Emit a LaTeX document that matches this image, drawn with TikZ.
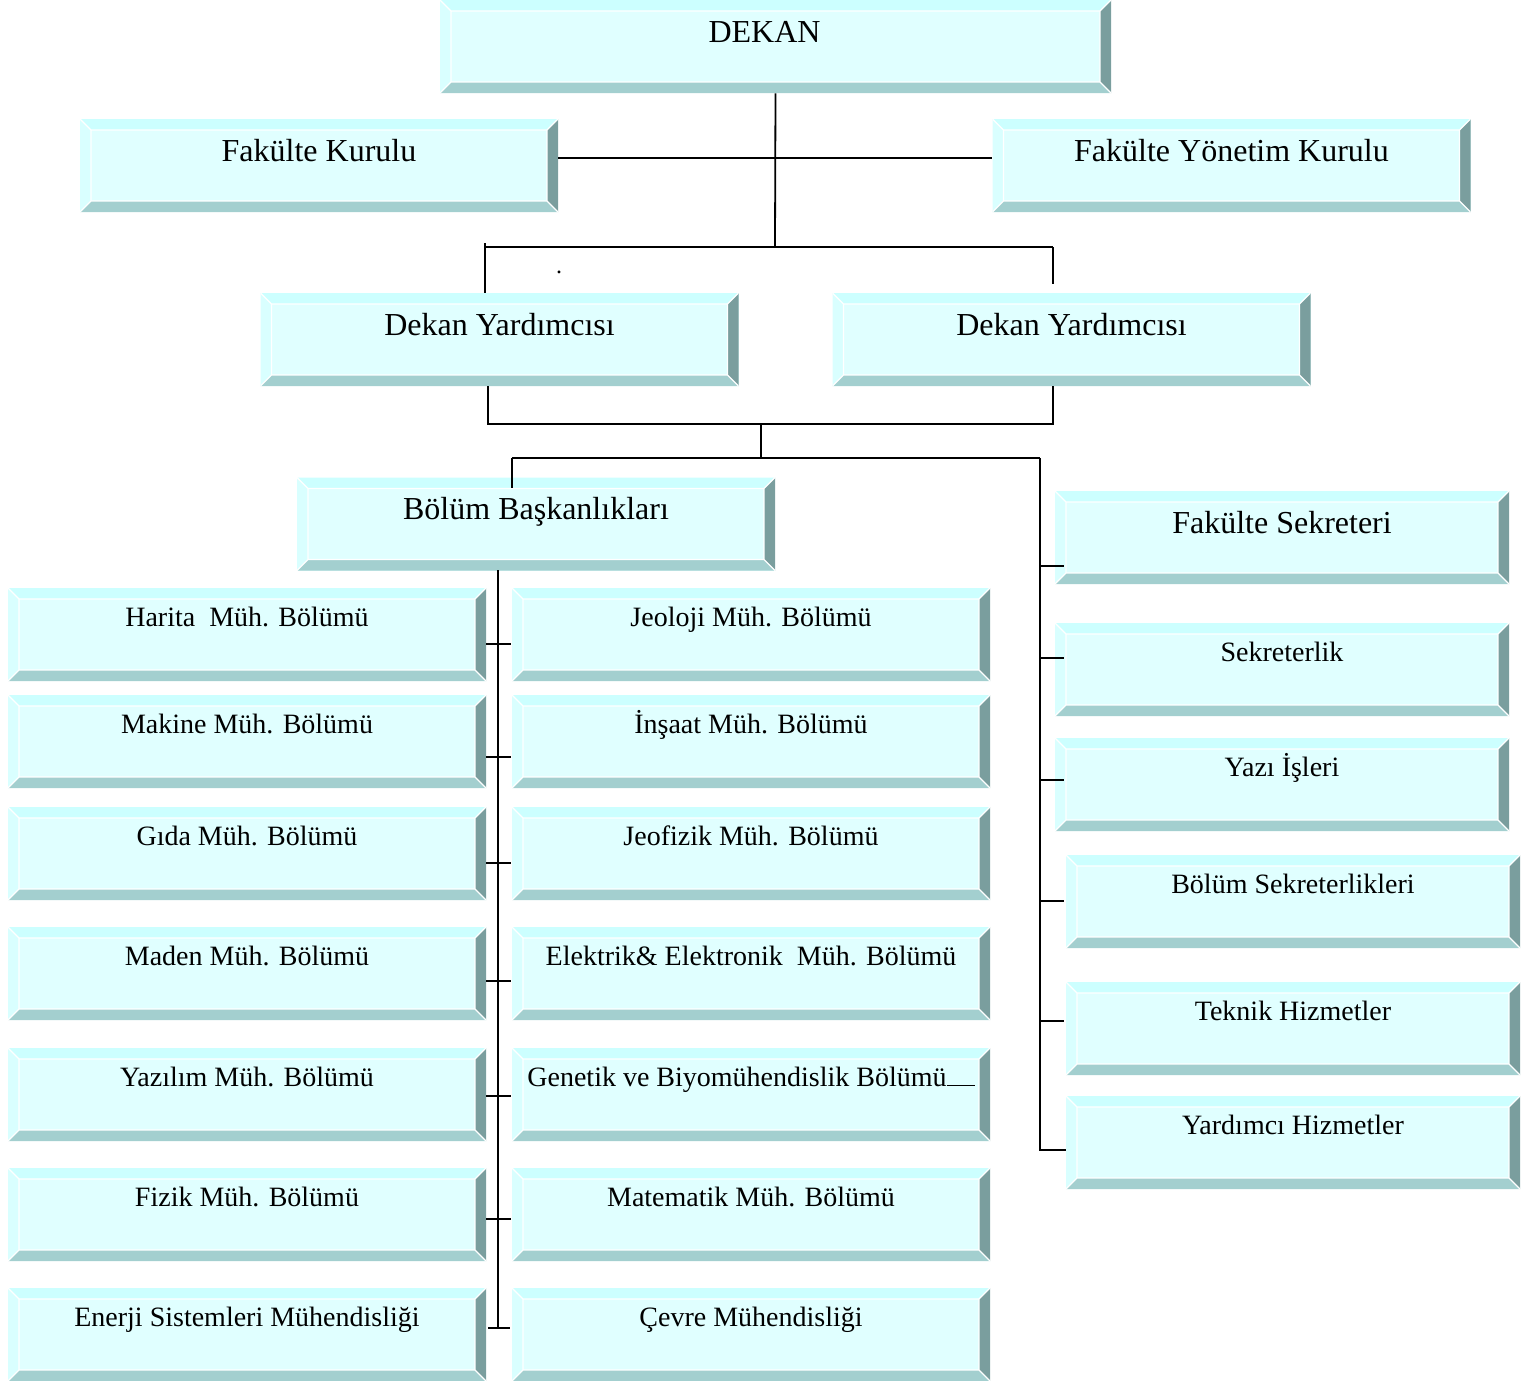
\documentclass[tikz,border=0pt]{standalone}
\usepackage{fontspec}
\setmainfont{Liberation Serif}
\usetikzlibrary{positioning,calc}

\definecolor{yuz}{HTML}{E0FFFF}
\definecolor{ustkenar}{HTML}{CCFFFF}
\definecolor{solkenar}{HTML}{D9FFFF}
\definecolor{altkenar}{HTML}{A3CFCF}
\definecolor{sagkenar}{HTML}{7A9E9E}
\newcommand{\kenar}{5.5pt}

\tikzset{node distance=252pt,
  kutu/.style={rectangle, inner sep=0pt, fill=yuz, minimum height=46.5pt,
    path picture={
      \path (path picture bounding box.south west) coordinate (A)
            (path picture bounding box.north east) coordinate (C);
      \path (A -| C) coordinate (B) (A |- C) coordinate (D);
      \path ($(A)+(\kenar,\kenar)$) coordinate (a) ($(B)+(-\kenar,\kenar)$) coordinate (b)
            ($(C)+(-\kenar,-\kenar)$) coordinate (c) ($(D)+(\kenar,-\kenar)$) coordinate (d);
      \fill[ustkenar] (D) -- (C) -- (c) -- (d) -- cycle;
      \fill[solkenar] (D) -- (d) -- (a) -- (A) -- cycle;
      \fill[altkenar] (A) -- (B) -- (b) -- (a) -- cycle;
      \fill[sagkenar] (B) -- (C) -- (c) -- (b) -- cycle;
      \draw[white, line width=0.6pt] (a) rectangle (c) (A) -- (a) (B) -- (b) (C) -- (c) (D) -- (d);
    }},
  buyuk/.style={kutu, minimum width=239pt, font=\fontsize{16}{19}\selectfont,
    text height=21pt, text depth=25.5pt},
  kucuk/.style={kutu, minimum width=239pt, font=\fontsize{14}{17}\selectfont,
    text height=19pt, text depth=27.5pt},
  dar/.style={minimum width=227pt},
  baglanti/.style={line width=0.9pt}
}

\begin{document}
\begin{tikzpicture}[x=0.5pt, y=-0.5pt]
  \useasboundingbox (0,0) rectangle (1539,1381);

  % ust kademe
  \node[buyuk, minimum width=335.5pt] (dekan) at (775.5,46.5) {DEKAN\hspace*{11pt}};
  \node[buyuk] (fkurul) at (319,165.5) {Fakülte Kurulu};
  \node[buyuk] (fyk) at (1231.5,165.5) {Fakülte Yönetim Kurulu};
  \node[buyuk] (yrd1) at (499.5,339.5) {Dekan Yardımcısı};
  \node[buyuk] (yrd2) at (1071.5,339.5) {Dekan Yardımcısı};
  \node[buyuk] (bolbsk) at (536,524) {Bölüm Başkanlıkları};
  \node[font=\fontsize{12}{14}\selectfont] (nokta) at (559,272) {.};

  % sekreterlik kolu
  \node[buyuk, dar] (fsek) at (1282,537.5) {Fakülte Sekreteri};
  \node[kucuk, dar] (sek) at (1282,669.5) {Sekreterlik};
  \node[kucuk, dar] (yazi) at (1282,784.5) {Yazı İşleri};
  \node[kucuk, dar] (bsek) at (1293,901.5) {Bölüm Sekreterlikleri};
  \node[kucuk, dar] (teknik) at (1293,1028.5) {Teknik Hizmetler};
  \node[kucuk, dar] (yrdhiz) at (1293,1142.5) {Yardımcı Hizmetler};

  % bolumler
  \node[kucuk] (harita) at (247,634.5) {Harita\ \ Müh. Bölümü};
  \node[kucuk, right of=harita] (jeoloji) {Jeoloji Müh. Bölümü};
  \node[kucuk] (makine) at (247,741.5) {Makine Müh. Bölümü};
  \node[kucuk, right of=makine] (insaat) {İnşaat Müh. Bölümü};
  \node[kucuk] (gida) at (247,853.5) {Gıda Müh. Bölümü};
  \node[kucuk, right of=gida] (jeofizik) {Jeofizik Müh. Bölümü};
  \node[kucuk] (maden) at (247,973.5) {Maden Müh. Bölümü};
  \node[kucuk, right of=maden] (elektrik) {Elektrik\& Elektronik\ \ Müh. Bölümü};
  \node[kucuk] (yazilim) at (247,1094.5) {Yazılım Müh. Bölümü};
  \node[kucuk, right of=yazilim] (genetik) {Genetik ve Biyomühendislik Bölümü\rule{14pt}{0.6pt}};
  \node[kucuk] (fizik) at (247,1214.5) {Fizik Müh. Bölümü};
  \node[kucuk, right of=fizik] (matematik) {Matematik Müh. Bölümü};
  \node[kucuk] (enerji) at (247,1334.5) {Enerji Sistemleri Mühendisliği};
  \node[kucuk, right of=enerji] (cevre) {Çevre Mühendisliği};

  % baglantilar
  \coordinate (d1) at (775,247);
  \coordinate (d1l) at (485,247);
  \coordinate (d1r) at (1053,247);
  \coordinate (d1rb) at (1053,284);
  \draw[baglanti] (dekan.south) -- (d1);
  \draw[baglanti] ([yshift=3.75pt]fkurul.east) -- ([yshift=3.75pt]fyk.west);
  \draw[baglanti] (d1l) -- (d1r);
  \draw[baglanti] ([yshift=2pt]d1l) -- (d1l |- yrd1.north);
  \draw[baglanti] (d1r) -- (d1rb);

  \coordinate (d2l) at (488,424);
  \coordinate (d2r) at (1053,424);
  \coordinate (d2m) at (761,424);
  \coordinate (d3m) at (761,458);
  \coordinate (d3l) at (512,458);
  \coordinate (d3r) at (1040,458);
  \coordinate (d3lb) at (512,488);
  \draw[baglanti] (d2l |- yrd1.south) -- (d2l) -- (d2r) -- (d2r |- yrd2.south);
  \draw[baglanti] (d2m) -- (d3m);
  \draw[baglanti] (d3l) -- (d3r);
  \draw[baglanti] (d3l) -- (d3lb);

  \coordinate (s0) at (498,570);
  \coordinate (s1) at (498,1328);
  \draw[baglanti] (s0) -- (s1);
  \draw[baglanti] (488,1328) -- (510,1328);
  \foreach \y in {644,757,863,981,1096,1219}
    \draw[baglanti] (486,\y) -- (511,\y);

  \coordinate (s2) at (1040,1150);
  \draw[baglanti] (d3r) -- (s2) -- (s2 -| yrdhiz.west);
  \foreach \y in {566,658,780,901,1021}
    \draw[baglanti] (1040,\y) -- +(24,0);
\end{tikzpicture}
\end{document}
